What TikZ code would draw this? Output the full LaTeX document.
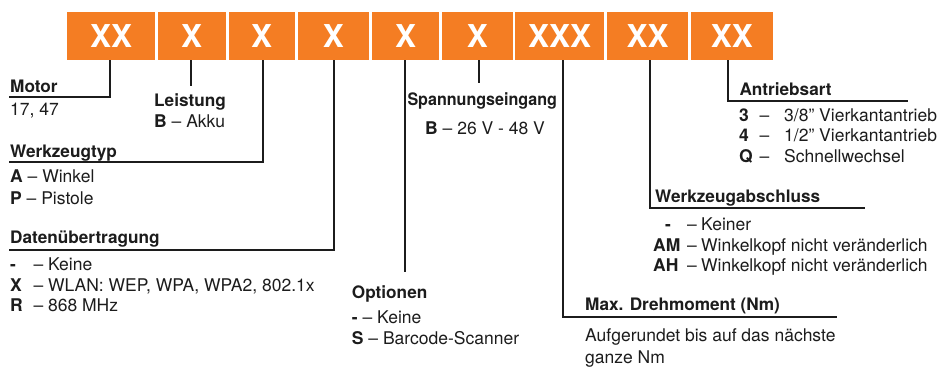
\documentclass[tikz,border=0pt]{standalone}
\usepackage{fontspec}
\setmainfont{TeX Gyre Heros}
\definecolor{boxorange}{RGB}{244,125,35}
\definecolor{ink}{RGB}{28,28,28}
\begin{document}
\begin{tikzpicture}[x=1pt,y=-1pt,
  codebox/.style={fill=boxorange, text=white, font=\fontsize{31.5}{32}\selectfont\bfseries,
    minimum height=48.3pt, inner sep=0pt, anchor=center},
  lbl/.style={anchor=base west, inner sep=0pt, text=ink, font=\fontsize{17.5}{20}\selectfont},
  head/.style={anchor=base west, inner sep=0pt, text=ink, font=\fontsize{17.2}{20}\selectfont\bfseries},
  conn/.style={draw=ink, line width=2pt}]
\useasboundingbox (0,0) rectangle (939,367);
% code boxes
\node[codebox, minimum width=87.7pt] (b1) at (111.15,35.85) {XX};
\node[codebox, minimum width=68.5pt] (b2) at (191.75,35.85) {X};
\node[codebox, minimum width=66pt]   (b3) at (261.7,35.85) {X};
\node[codebox, minimum width=71.3pt] (b4) at (333.35,35.85) {X};
\node[codebox, minimum width=67.6pt] (b5) at (405.5,35.85) {X};
\node[codebox, minimum width=70.7pt] (b6) at (477.35,35.85) {X};
\node[codebox, minimum width=88.7pt] (b7) at (559.65,35.85) {XXX};
\node[codebox, minimum width=81.3pt] (b8) at (647.65,35.85) {XX};
\node[codebox, minimum width=81.7pt] (b9) at (731.85,35.85) {XX};
% connector corners and ends
\coordinate (motC) at (110,96.7);   \coordinate (motE) at (9,96.7);
\coordinate (leiE) at (191,86);
\coordinate (wztC) at (263,161.7);  \coordinate (wztE) at (9,161.7);
\coordinate (datC) at (334,249.5);  \coordinate (datE) at (9,249.5);
\coordinate (optE) at (404.5,272);
\coordinate (spaE) at (479.3,83);
\coordinate (maxC) at (563,316.7);  \coordinate (maxE) at (837,316.7);
\coordinate (wzaC) at (650,208);    \coordinate (wzaE) at (865,208);
\coordinate (antC) at (728,100.7);  \coordinate (antE) at (908,100.7);
\draw[conn] (b1.south -| motC) -- (motC) -- (motE);
\draw[conn] (b2.south -| leiE) -- (leiE);
\draw[conn] (b3.south -| wztC) -- (wztC) -- (wztE);
\draw[conn] (b4.south -| datC) -- (datC) -- (datE);
\draw[conn] (b5.south -| optE) -- (optE);
\draw[conn] (b6.south -| spaE) -- (spaE);
\draw[conn] (b7.south -| maxC) -- (maxC) -- (maxE);
\draw[conn] (b8.south -| wzaC) -- (wzaC) -- (wzaE);
\draw[conn] (b9.south -| antC) -- (antC) -- (antE);
% Motor
\node[head] (motH) at (10,92) {Motor};
\node[lbl] (motT) at (10,115) {17, 47};
% Leistung
\node[head] (leiH) at (154,106) {Leistung};
\node[lbl] (leiT) at (154,127.7) {\textbf{B} – Akku};
% Werkzeugtyp
\node[head] (wztH) at (10,157.3) {Werkzeugtyp};
\node[lbl] (wzt1) at (10,182.7) {\textbf{A} – Winkel};
\node[lbl] (wzt2) at (10,204) {\textbf{P} – Pistole};
% Datenuebertragung
\node[head] (datH) at (10,243.8) {Datenübertragung};
\node[lbl] (dat1) at (10,270.5) {\makebox[23.3pt][l]{\textbf{-}}– Keine};
\node[lbl] (dat2) at (10,291) {\makebox[23.3pt][l]{\textbf{X}}– WLAN: WEP, WPA, WPA2, 802.1x};
\node[lbl] (dat3) at (10,311.7) {\makebox[23.3pt][l]{\textbf{R}}– 868 MHz};
% Optionen
\node[head] (optH) at (351.7,298.3) {Optionen};
\node[lbl] (opt1) at (351.7,323.3) {\textbf{-} – Keine};
\node[lbl] (opt2) at (351.7,344.3) {\textbf{S} – Barcode-Scanner};
% Spannungseingang
\node[head] (spaH) at (407.3,105.7) {\scalebox{0.936}[1]{Spannungseingang}};
\node[lbl] (spaT) at (425,134) {\textbf{B} – 26 V - 48 V};
% Max. Drehmoment
\node[head] (maxH) at (585,310) {Max. Drehmoment (Nm)};
\node[lbl] (maxT1) at (585,341.7) {Aufgerundet bis auf das nächste};
\node[lbl] (maxT2) at (585,363.3) {ganze Nm};
% Werkzeugabschluss
\node[head] (wzaH) at (655,202.7) {Werkzeugabschluss};
\node[lbl] (wza1) at (653,230.7) {\makebox[34pt][l]{\hspace{12pt}\textbf{-}}\makebox[14pt][l]{–}Keiner};
\node[lbl] (wza2) at (653,251.7) {\makebox[34pt][l]{\textbf{AM}}\makebox[14pt][l]{–}Winkelkopf nicht veränderlich};
\node[lbl] (wza3) at (653,271.7) {\makebox[34pt][l]{\textbf{AH}}\makebox[14pt][l]{–}Winkelkopf nicht veränderlich};
% Antriebsart
\node[head] (antH) at (739.3,95) {Antriebsart};
\node[lbl] (ant1) at (739,121.7) {\makebox[20.3pt][l]{\textbf{3}}\makebox[24.7pt][l]{–}3/8” Vierkantantrieb};
\node[lbl] (ant2) at (739,141.7) {\makebox[20.3pt][l]{\textbf{4}}\makebox[24.7pt][l]{–}1/2” Vierkantantrieb};
\node[lbl] (ant3) at (739,162.7) {\makebox[20.3pt][l]{\textbf{Q}}\makebox[24.7pt][l]{–}Schnellwechsel};
\end{tikzpicture}
\end{document}
